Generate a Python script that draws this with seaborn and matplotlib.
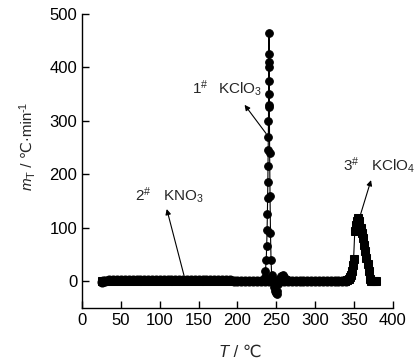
import matplotlib
matplotlib.use("Agg")
import matplotlib.pyplot as plt
import seaborn as sns
import pandas as pd

# ---- data ----
t_kno3 = [25, 27, 30, 35, 40, 45, 50, 55, 60, 65, 70, 75, 80, 85, 90, 95, 100, 105, 110, 115,
          120, 125, 130, 135, 140, 145, 150, 155, 160, 165, 170, 175, 180, 185, 190, 195, 200,
          205, 210, 215, 220, 225, 230, 235, 240, 245, 250, 255, 260, 265, 270, 275, 280, 285,
          290, 295, 300, 305, 310, 315, 320, 325, 330, 335, 340]
m_kno3 = [-2, 0, 1, 2, 2, 2, 2, 2, 2, 2, 2, 2, 2, 2, 2, 2, 2, 2, 2, 2,
          2, 2, 2, 2, 2, 2, 2, 2, 2, 2, 2, 2, 2, 2, 2, 1, 1,
          1, 1, 1, 0, 0, 0, 0, 0, 0, 0, 0, 0, 0, 0, 0, 0, 0,
          0, 0, 0, 0, 0, 0, 0, 0, 0, 0, 0]

t_kclo3 = [25, 27, 30, 35, 40, 45, 50, 55, 60, 65, 70, 75, 80, 85, 90, 95, 100, 105, 110, 115,
           120, 125, 130, 135, 140, 145, 150, 155, 160, 165, 170, 175, 180, 185, 190, 195, 200,
           205, 210, 215, 220, 225, 230, 233, 235, 236, 237, 237.6, 238.1, 238.5, 238.8, 239.1,
           239.3, 239.5, 239.7, 239.9, 240.0, 240.1, 240.2, 240.3, 240.4, 240.5, 240.7, 241.0,
           241.4, 241.9, 242.5, 243.2, 244, 245, 246.5, 248, 249.5, 250.5, 251.5, 252.5, 254,
           256, 258, 260, 262, 265, 268, 272, 276, 280, 285, 290, 295, 300]
m_kclo3 = [-2, 0, 1, 2, 2, 2, 2, 2, 2, 2, 2, 2, 2, 2, 2, 2, 2, 2, 2, 2,
           2, 2, 2, 2, 2, 2, 2, 2, 2, 2, 2, 2, 2, 2, 2, 1, 1,
           1, 1, 1, 0, 0, 0, 2, 8, 20, 40, 65, 95, 125, 155, 185,
           215, 245, 270, 300, 325, 350, 375, 400, 425, 465, 410, 330,
           240, 160, 90, 40, 12, 0, -10, -18, -22, -24, -18, -6, 4,
           10, 12, 8, 4, 2, 1, 0, 0, 0, 0, 0, 0, 0]

t_kclo4 = [25, 30, 40, 50, 60, 70, 80, 90, 100, 110, 120, 130, 140, 150, 160, 170, 180, 190,
           200, 210, 220, 230, 240, 250, 260, 270, 280, 290, 300, 305, 310, 315, 320, 325, 330,
           335, 338, 341, 343, 345, 346.5, 347.5, 348.5, 349.5, 351, 352.5, 354, 355.5, 357,
           358.5, 360, 361.5, 363, 364.5, 366, 367.5, 369, 370.5, 372, 374, 376, 378]
m_kclo4 = [0, 0, 0, 0, 0, 0, 0, 0, 0, 0, 0, 0, 0, 0, 0, 0, 0, 0,
           0, 0, 0, 0, 0, 0, 0, 0, 0, 0, 0, 0, 0, 0, 0, 0, 0,
           0, 1, 2, 4, 7, 12, 20, 30, 41, 93, 105, 113, 118, 112,
           100, 90, 80, 68, 56, 44, 32, 20, 5, 0, 0, 0, 0]

x_ticks = [0, 50, 100, 150, 200, 250, 300, 350, 400]
y_ticks = [0, 100, 200, 300, 400, 500]

# ---- style ----
sns.set_style("ticks")
FAM = ['Liberation Sans', 'DejaVu Sans', 'Noto Sans CJK SC']
plt.rcParams['font.family'] = FAM
plt.rcParams['mathtext.fontset'] = 'custom'
plt.rcParams['mathtext.rm'] = 'Liberation Sans'
plt.rcParams['mathtext.it'] = 'Liberation Sans:italic'
plt.rcParams['mathtext.bf'] = 'Liberation Sans:bold'

W, H = 417, 364
fig = plt.figure(figsize=(W / 100, H / 100), dpi=100)
ax = fig.add_axes([0.197, 0.154, 0.745, 0.808])

df1 = pd.DataFrame({"T": t_kclo3, "m": m_kclo3})
df2 = pd.DataFrame({"T": t_kno3, "m": m_kno3})
df3 = pd.DataFrame({"T": t_kclo4, "m": m_kclo4})

for df, mk, ms in [(df2, "o", 6.5), (df1, "o", 5.5), (df3, "s", 5.5)]:
    sns.lineplot(data=df, x="T", y="m", ax=ax, sort=False, estimator=None,
                 color="black", linewidth=0.8, marker=mk, markersize=ms,
                 markeredgecolor="black", markerfacecolor="black")

ax.set_xlim(0, 400)
ax.set_ylim(-50, 500)
ax.set_xticks(x_ticks)
ax.set_yticks(y_ticks)
ax.tick_params(direction="in", length=5, width=1, labelsize=12, colors="black")
for s in ["left", "bottom"]:
    ax.spines[s].set_linewidth(1)
    ax.spines[s].set_color("black")
sns.despine(ax=ax)
ax.set_xlabel("")
ax.set_ylabel("")

arrow = dict(arrowstyle="-|>", color="black", lw=0.8, mutation_scale=8)
ax.annotate("", xy=(207, 334), xytext=(239, 272), arrowprops=arrow)
ax.annotate("", xy=(108, 140), xytext=(132, 6), arrowprops=arrow)
ax.annotate("", xy=(373, 194), xytext=(357, 118), arrowprops=arrow)

fs = 11
ax.text(141, 362, r"1$^{\#}$", fontsize=fs, va="center", ha="left")
ax.text(175, 358, r"KClO$_3$", fontsize=fs, va="center", ha="left")
ax.text(68, 162, r"2$^{\#}$", fontsize=fs, va="center", ha="left")
ax.text(104, 158, r"KNO$_3$", fontsize=fs, va="center", ha="left")
ax.text(336, 218, r"3$^{\#}$", fontsize=fs, va="center", ha="left")
ax.text(372, 214, r"KClO$_4$", fontsize=fs, va="center", ha="left")

# ---- axis labels composed of pieces (keeps the ℃ glyph) ----
renderer = fig.canvas.get_renderer()


def piece_width(s, size, style):
    t = fig.text(0, 0, s, fontsize=size, style=style, family=FAM)
    w = t.get_window_extent(renderer).width
    t.remove()
    return w


def compose(pieces, x0, y0, rotation=0, center=True):
    widths = [piece_width(s, sz, st) for s, sz, st, _ in pieces]
    total = sum(widths)
    pos = -total / 2 if center else 0
    for (s, sz, st, dy), w in zip(pieces, widths):
        if rotation == 0:
            x, y = x0 + pos, y0 + dy
        else:
            x, y = x0 - dy, y0 + pos
        fig.text(x / W, y / H, s, fontsize=sz, style=st, family=FAM,
                 rotation=rotation, rotation_mode="anchor",
                 ha="left", va="baseline")
        pos += w


compose([("T", 12, "italic", 0), (" / ℃", 12, "normal", 0)], 240, 7)
compose([("m", 11, "italic", 0), ("T", 8, "normal", -3),
         (" / ℃·min", 11, "normal", 0), ("-1", 8, "normal", 5.5)],
        32, 218, rotation=90)

fig.savefig("out.png", dpi=100)
